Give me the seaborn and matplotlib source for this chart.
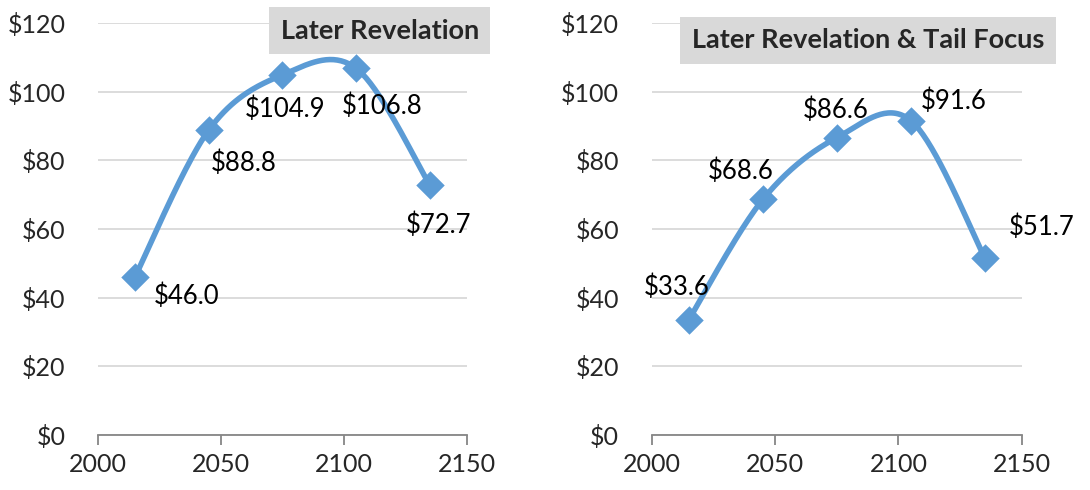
import numpy as np
import pandas as pd
import matplotlib
matplotlib.use("Agg")
import matplotlib.pyplot as plt
import seaborn as sns

years = [2015, 2045, 2075, 2105, 2135]
later_revelation = [46.0, 88.8, 104.9, 106.8, 72.7]
tail_focus = [33.6, 68.6, 86.6, 91.6, 51.7]
titles = ["Later Revelation", "Later Revelation & Tail Focus"]
y_ticks = [0, 20, 40, 60, 80, 100, 120]
x_ticks = [2000, 2050, 2100, 2150]

# label offsets in points (dx, dy) from each marker
left_offsets = [(37, -14), (25, -24), (2, -25), (19, -27), (6, -29)]
right_offsets = [(-9, 23), (-16, 20), (-1, 20), (31, 14), (41, 22)]

BLUE = "#5B9BD5"

sns.set_style("white")
plt.rcParams["font.family"] = ["Lato", "DejaVu Sans"]


def smooth(xs, ys, n=40):
    """Excel-style smoothed line (Catmull-Rom Bezier segments)."""
    p = np.column_stack([xs, ys]).astype(float)
    pts = []
    for i in range(len(p) - 1):
        p0 = p[i - 1] if i > 0 else p[i]
        p3 = p[i + 2] if i + 2 < len(p) else p[i + 1]
        c1 = p[i] + (p[i + 1] - p0) / 6
        c2 = p[i + 1] - (p3 - p[i]) / 6
        t = np.linspace(0, 1, n)[:, None]
        seg = ((1 - t) ** 3) * p[i] + 3 * ((1 - t) ** 2) * t * c1 \
            + 3 * (1 - t) * t ** 2 * c2 + t ** 3 * p[i + 1]
        pts.append(seg if i == 0 else seg[1:])
    pts = np.vstack(pts)
    return pts[:, 0], pts[:, 1]


def draw_panel(ax, values, offsets):
    sx, sy = smooth(years, values)
    ax.plot(sx, sy, color=BLUE, lw=4, solid_capstyle="round", clip_on=False, zorder=3)
    df = pd.DataFrame({"year": years, "value": values})
    sns.scatterplot(data=df, x="year", y="value", marker="D", s=210, color=BLUE,
                    edgecolor=BLUE, linewidth=0, ax=ax, zorder=4, clip_on=False)
    for x, y, (dx, dy) in zip(years, values, offsets):
        ax.annotate(f"${y:.1f}", (x, y), xytext=(dx, dy), textcoords="offset points",
                    ha="center", va="center", fontsize=18.5, color="black", zorder=5)
    ax.set_xlim(2000, 2150)
    ax.set_ylim(0, 120)
    ax.set_xticks(x_ticks)
    ax.set_yticks(y_ticks)
    ax.set_yticklabels([f"${v}" for v in y_ticks])
    ax.set_xlabel("")
    ax.set_ylabel("")
    ax.grid(axis="y", color="#D9D9D9", lw=1.3)
    ax.set_axisbelow(True)
    for s in ["left", "right", "top"]:
        ax.spines[s].set_visible(False)
    ax.spines["bottom"].set_color("#868686")
    ax.spines["bottom"].set_linewidth(1.3)
    ax.tick_params(axis="x", bottom=True, direction="out", length=7, width=1.3,
                   color="#868686", labelsize=18, pad=6)
    ax.tick_params(axis="y", left=False, labelsize=18, pad=20)


fig = plt.figure(figsize=(10.9, 4.9), dpi=100)
ax1 = fig.add_axes([0.0899, 0.1122, 0.3385, 0.8408])
ax2 = fig.add_axes([0.598, 0.1122, 0.3394, 0.8408])

draw_panel(ax1, later_revelation, left_offsets)
draw_panel(ax2, tail_focus, right_offsets)

box = dict(boxstyle="square,pad=0.42", fc="#D9D9D9", ec="none")
fig.text(0.3486, 0.937, titles[0], ha="center", va="center", fontsize=19.5,
         fontweight="bold", bbox=box)
fig.text(0.7963, 0.918, titles[1], ha="center", va="center", fontsize=19.5,
         fontweight="bold", bbox=box)

fig.savefig("out.png", dpi=100)
